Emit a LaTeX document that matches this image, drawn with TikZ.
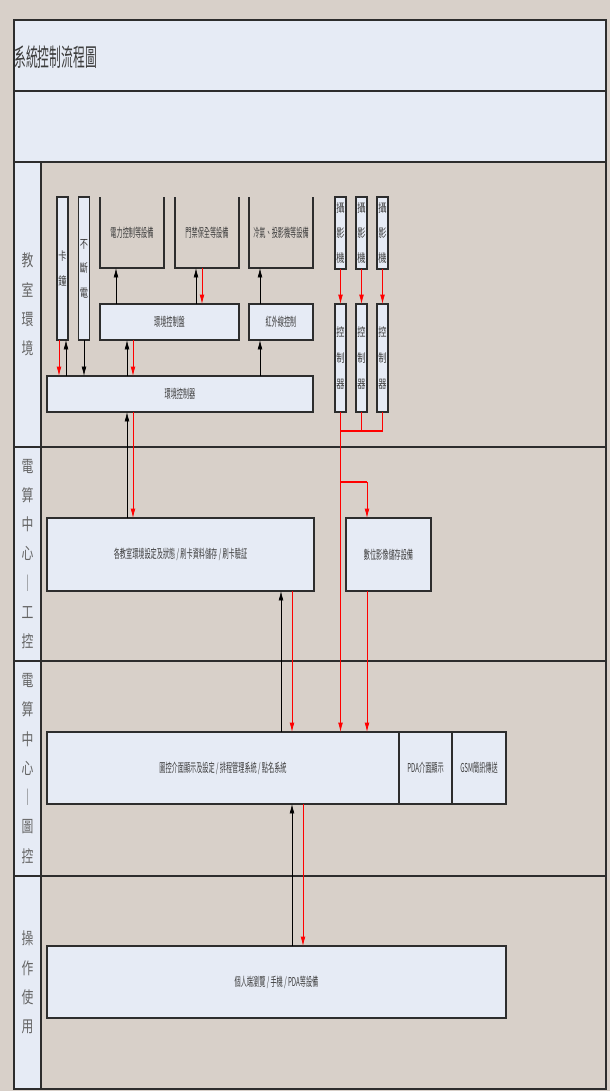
\documentclass[tikz,border=0pt]{standalone}
\usepackage{fontspec}
\setmainfont{Noto Sans CJK TC}
\newfontfamily\boxfont[FakeStretch=0.5]{Noto Sans CJK TC}
\newfontfamily\colfont[FakeStretch=0.7]{Noto Sans CJK TC}
\newfontfamily\lanefont[FakeStretch=0.72]{Noto Sans CJK TC}
\newfontfamily\titlefont[FakeStretch=0.48]{Noto Sans CJK TC}
\usepackage{tikz}
\usetikzlibrary{arrows.meta,calc,positioning}
\definecolor{paneblue}{RGB}{230,235,245}
\definecolor{lanebeige}{RGB}{216,208,201}
\definecolor{framegray}{RGB}{45,45,45}
\definecolor{textgray}{RGB}{60,60,60}
\newlength{\pxu}\setlength{\pxu}{0.03cm}

\begin{document}
\begin{tikzpicture}[x=0.03cm,y=-0.03cm,
  frame/.style={draw=framegray,line width=1.4pt},
  box/.style={draw=framegray,line width=1pt,fill=paneblue,inner sep=0pt,outer sep=0pt,
    align=center,text=textgray,font=\boxfont\fontsize{10.5}{11}\selectfont},
  colbox/.style={box,font=\colfont\fontsize{10}{21}\selectfont},
  devbox/.style={inner sep=0pt,outer sep=0pt,align=center,text=textgray,
    font=\boxfont\fontsize{10.5}{11}\selectfont,minimum width=64\pxu,minimum height=71\pxu},
  lanetext/.style={align=center,text=textgray!80,font=\lanefont\fontsize{14}{25}\selectfont},
  blkarr/.style={-{Latex[length=2.8mm,width=1.4mm]},black,line width=0.5pt},
  redarr/.style={-{Latex[length=2.8mm,width=1.4mm]},red,line width=0.6pt},
  redline/.style={red,line width=0.6pt}]
% page and frame
\fill[lanebeige] (0,0) rectangle (610,1091);
\useasboundingbox (0,0) rectangle (610,1091);
\draw[frame,fill=paneblue] (14,20) rectangle (606,91);
\draw[frame,fill=paneblue] (14,91) rectangle (606,162);
\node[anchor=west,inner sep=0pt,text=textgray,font=\titlefont\fontsize{21}{22}\selectfont] (title) at (14,57) {系統控制流程圖};

% swim lanes
\foreach \ya/\yb/\lbl [count=\i] in {162/447/{教\\室\\環\\境},447/661/{電\\算\\中\\心\\｜\\工\\控},
    661/876/{電\\算\\中\\心\\｜\\圖\\控},876/1089/{操\\作\\使\\用}}{
  \draw[frame,fill=lanebeige] (41,\ya) rectangle (606,\yb);
  \draw[frame,fill=paneblue] (14,\ya) rectangle (41,\yb);
  \node[lanetext] (lane\i) at (27.5,{(\ya+\yb)/2}) {\lbl};
}

% classroom lane
\node[colbox,minimum width=11\pxu,minimum height=143\pxu] (kazhong) at (62.5,268.5) {卡\\鐘};
\node[colbox,minimum width=11\pxu,minimum height=143\pxu] (ups) at (84,268.5) {不\\斷\\電};
\node[devbox] (power) at (132,232.5) {電力控制等設備};
\node[devbox] (door) at (207,232.5) {門禁保全等設備};
\node[devbox] (aircon) at (281,232.5) {冷氣、投影機等設備};
\foreach \d in {power,door,aircon}
  \draw[draw=framegray,line width=1pt] (\d.north west) -- (\d.south west) -- (\d.south east) -- (\d.north east);
\node[box,minimum width=139\pxu,minimum height=36\pxu] (panel) at (169.5,322) {環境控制盤};
\node[box,minimum width=64\pxu,minimum height=36\pxu] (ir) at (281,322) {紅外線控制};
\node[box,minimum width=266\pxu,minimum height=36\pxu] (envctl) at (180,394) {環境控制器};
\foreach \cx [count=\i] in {340.5,361.5,382.5}{
  \node[colbox,minimum width=11\pxu,minimum height=72\pxu] (cam\i) at (\cx,233) {攝\\影\\機};
  \node[colbox,minimum width=11\pxu,minimum height=108\pxu,font=\colfont\fontsize{10}{22}\selectfont] (ctl\i) at (\cx,358) {控\\制\\器};
}

% computer centre lanes
\node[box,minimum width=267\pxu,minimum height=73\pxu] (record) at (180.5,554.5) {各教室環境設定及狀態 / 刷卡資料儲存 / 刷卡驗証};
\node[box,minimum width=85\pxu,minimum height=73\pxu] (video) at (388.5,554.5) {數位影像儲存設備};
\node[box,minimum width=352\pxu,minimum height=72\pxu] (scada) at (223,768) {圖控介面顯示及設定 / 排程管理系統 / 點名系統};
\node[box,minimum width=53\pxu,minimum height=72\pxu] (pda) at (425.5,768) {PDA介面顯示};
\node[box,minimum width=54\pxu,minimum height=72\pxu] (gsm) at (479,768) {GSM簡訊傳送};

% user lane
\node[box,minimum width=459\pxu,minimum height=72\pxu] (user) at (276.5,982) {個人端瀏覽 / 手機 / PDA等設備};

% connector columns
\foreach \n/\xx in {kzdn/59,kzup/66,upsdn/84,pwup/116,ecup/127,ecdn/133,drup/196,drdn/202,
    irup/260,rcup/281,rcdn/292,usdn/303,vdcol/367}
  \coordinate (\n) at (\xx,0);
\coordinate (hub) at (340.5,431);
\coordinate (fork) at (340.5,482);

% links in the classroom
\draw[redarr] (kzdn |- kazhong.south) -- (kzdn |- envctl.north);
\draw[blkarr] (kzup |- envctl.north) -- (kzup |- kazhong.south);
\draw[blkarr] (upsdn |- ups.south) -- (upsdn |- envctl.north);
\draw[blkarr] (pwup |- panel.north) -- (pwup |- power.south);
\draw[blkarr] (drup |- panel.north) -- (drup |- door.south);
\draw[redarr] (drdn |- door.south) -- (drdn |- panel.north);
\draw[blkarr] (irup |- ir.north) -- (irup |- aircon.south);
\draw[blkarr] (irup |- envctl.north) -- (irup |- ir.south);
\draw[blkarr] (ecup |- envctl.north) -- (ecup |- panel.south);
\draw[redarr] (ecdn |- panel.south) -- (ecdn |- envctl.north);
\foreach \i in {1,2,3}
  \draw[redarr] (cam\i.south) -- (ctl\i.north);
\draw[redline] (ctl2.south) |- (hub);
\draw[redline] (ctl3.south) |- (hub);
\draw[red,line width=1.2pt] (ctl1.south |- hub) -- (ctl3.south |- hub);

% links between lanes
\draw[blkarr] (ecup |- record.north) -- (ecup |- envctl.south);
\draw[redarr] (ecdn |- envctl.south) -- (ecdn |- record.north);
\draw[redarr] (ctl1.south) -- (ctl1.south |- scada.north);
\draw[red,line width=1.6pt] (fork) -- (fork -| vdcol);
\draw[redarr] (fork) -| (vdcol |- video.north);
\draw[redarr] (vdcol |- video.south) -- (vdcol |- scada.north);
\draw[blkarr] (rcup |- scada.north) -- (rcup |- record.south);
\draw[redarr] (rcdn |- record.south) -- (rcdn |- scada.north);
\draw[blkarr] (rcdn |- user.north) -- (rcdn |- scada.south);
\draw[redarr] (usdn |- scada.south) -- (usdn |- user.north);
\end{tikzpicture}
\end{document}
